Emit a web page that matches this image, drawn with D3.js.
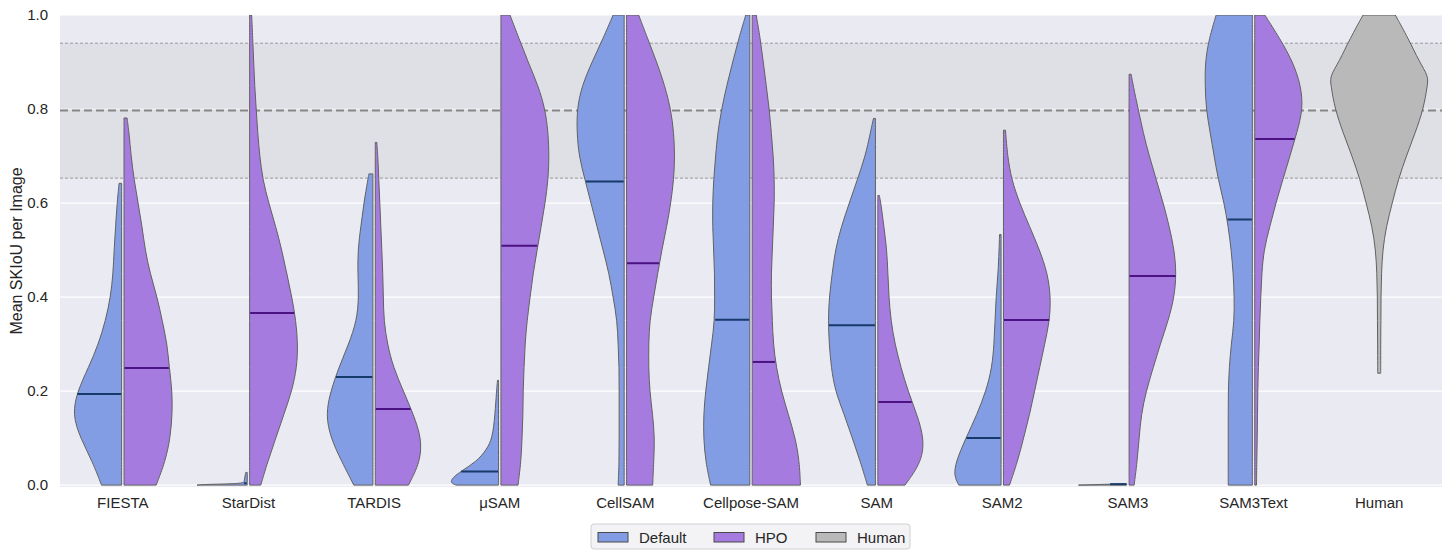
<!DOCTYPE html>
<html>
<head>
<meta charset="utf-8">
<script src="https://cdn.jsdelivr.net/npm/d3@7"></script>
<style>
  body { margin: 0; background: #fff; }
  svg { font-family: "Liberation Sans", Arial, sans-serif; }
</style>
</head>
<body>
<svg id="chart"></svg>
<script>
// categories and per-group means
const categories = ["FIESTA", "StarDist", "TARDIS", "μSAM", "CellSAM", "Cellpose-SAM", "SAM", "SAM2", "SAM3", "SAM3Text", "Human"];
const defaultMeans = [0.194, 0.004, 0.230, 0.029, 0.646, 0.352, 0.340, 0.100, 0.002, 0.565, null];
const hpoMeans = [0.249, 0.366, 0.162, 0.509, 0.472, 0.262, 0.177, 0.351, 0.445, 0.736, null];

// human reference: mean and band
const humanMean = 0.797;
const humanBand = [0.653, 0.940];

const yTicks = [0, 0.2, 0.4, 0.6, 0.8, 1.0];

// density profiles: [score, relative density]
const defaultDensity = [
  [[0,0.40],[0.05,0.58],[0.1,0.82],[0.15,0.98],[0.2,0.88],[0.25,0.66],[0.3,0.46],[0.35,0.32],[0.4,0.22],[0.45,0.17],[0.5,0.15],[0.55,0.12],[0.6,0.09],[0.642,0.05]],
  [[0,1.0],[0.0015,0.9],[0.003,0.08],[0.008,0.06],[0.015,0.05],[0.022,0.04],[0.027,0.03]],
  [[0,0.38],[0.05,0.62],[0.1,0.84],[0.15,0.94],[0.2,0.84],[0.25,0.68],[0.3,0.48],[0.35,0.32],[0.4,0.28],[0.45,0.3],[0.5,0.3],[0.55,0.24],[0.6,0.18],[0.65,0.1],[0.662,0.08]],
  [[0,0.84],[0.005,0.96],[0.015,0.92],[0.03,0.74],[0.05,0.44],[0.075,0.24],[0.1,0.12],[0.15,0.07],[0.2,0.04],[0.223,0.02]],
  [[0,0.12],[0.05,0.1],[0.1,0.1],[0.15,0.1],[0.2,0.1],[0.25,0.1],[0.3,0.12],[0.35,0.14],[0.4,0.22],[0.45,0.3],[0.5,0.42],[0.55,0.54],[0.6,0.66],[0.65,0.78],[0.7,0.9],[0.75,0.94],[0.8,0.94],[0.85,0.84],[0.9,0.64],[0.95,0.42],[1.0,0.22]],
  [[0,0.78],[0.05,0.88],[0.1,0.92],[0.15,0.92],[0.2,0.88],[0.25,0.82],[0.3,0.76],[0.35,0.7],[0.4,0.7],[0.45,0.7],[0.5,0.72],[0.55,0.74],[0.6,0.74],[0.65,0.72],[0.7,0.68],[0.75,0.64],[0.8,0.56],[0.85,0.46],[0.9,0.34],[0.95,0.22],[1.0,0.08]],
  [[0,0.16],[0.05,0.3],[0.1,0.46],[0.15,0.62],[0.2,0.8],[0.25,0.88],[0.3,0.92],[0.35,0.94],[0.4,0.92],[0.45,0.86],[0.5,0.8],[0.55,0.68],[0.6,0.52],[0.65,0.36],[0.7,0.2],[0.75,0.1],[0.78,0.04]],
  [[0,0.84],[0.02,0.94],[0.05,0.9],[0.1,0.7],[0.15,0.48],[0.2,0.3],[0.25,0.18],[0.3,0.14],[0.35,0.12],[0.4,0.1],[0.45,0.06],[0.5,0.04],[0.533,0.03]],
  [[0,0.96],[0.0015,0.5],[0.003,0.02]],
  [[0,0.48],[0.05,0.48],[0.1,0.48],[0.15,0.48],[0.2,0.48],[0.25,0.46],[0.3,0.42],[0.35,0.36],[0.4,0.36],[0.45,0.38],[0.5,0.42],[0.55,0.48],[0.6,0.56],[0.65,0.68],[0.7,0.76],[0.75,0.84],[0.8,0.92],[0.85,0.94],[0.9,0.94],[0.95,0.86],[1.0,0.72]],
  null
];

const hpoDensity = [
  [[0,0.64],[0.05,0.82],[0.1,0.92],[0.15,0.96],[0.2,0.96],[0.25,0.9],[0.3,0.86],[0.35,0.76],[0.4,0.66],[0.45,0.52],[0.5,0.42],[0.55,0.36],[0.6,0.28],[0.65,0.2],[0.7,0.14],[0.75,0.1],[0.781,0.06]],
  [[0,0.22],[0.05,0.36],[0.1,0.52],[0.15,0.68],[0.2,0.84],[0.25,0.94],[0.3,0.96],[0.35,0.92],[0.4,0.84],[0.45,0.74],[0.5,0.64],[0.55,0.52],[0.6,0.38],[0.65,0.26],[0.7,0.2],[0.75,0.16],[0.8,0.13],[0.85,0.1],[0.9,0.08],[0.95,0.06],[1.0,0.04]],
  [[0,0.66],[0.05,0.9],[0.1,0.92],[0.15,0.76],[0.2,0.56],[0.25,0.36],[0.3,0.24],[0.35,0.17],[0.4,0.16],[0.45,0.15],[0.5,0.13],[0.55,0.11],[0.6,0.09],[0.65,0.07],[0.7,0.05],[0.729,0.03]],
  [[0,0.34],[0.05,0.4],[0.1,0.42],[0.15,0.44],[0.2,0.44],[0.25,0.46],[0.3,0.48],[0.35,0.52],[0.4,0.58],[0.45,0.64],[0.5,0.72],[0.55,0.8],[0.6,0.88],[0.65,0.94],[0.7,0.96],[0.75,0.94],[0.8,0.88],[0.85,0.74],[0.9,0.54],[0.95,0.36],[1.0,0.18]],
  [[0,0.52],[0.05,0.54],[0.1,0.56],[0.15,0.52],[0.2,0.46],[0.25,0.44],[0.3,0.44],[0.35,0.46],[0.4,0.54],[0.45,0.62],[0.5,0.7],[0.55,0.8],[0.6,0.88],[0.65,0.94],[0.7,0.96],[0.75,0.94],[0.8,0.88],[0.85,0.76],[0.9,0.6],[0.95,0.42],[1.0,0.24]],
  [[0,0.96],[0.05,0.94],[0.1,0.86],[0.15,0.72],[0.2,0.58],[0.25,0.48],[0.3,0.42],[0.35,0.4],[0.4,0.38],[0.45,0.38],[0.5,0.4],[0.55,0.42],[0.6,0.44],[0.65,0.44],[0.7,0.42],[0.75,0.38],[0.8,0.34],[0.85,0.28],[0.9,0.22],[0.95,0.16],[1.0,0.08]],
  [[0,0.54],[0.05,0.88],[0.1,0.92],[0.15,0.78],[0.2,0.6],[0.25,0.46],[0.3,0.34],[0.35,0.26],[0.4,0.22],[0.45,0.2],[0.5,0.18],[0.55,0.12],[0.6,0.06],[0.616,0.03]],
  [[0,0.12],[0.05,0.28],[0.1,0.4],[0.15,0.52],[0.2,0.62],[0.25,0.72],[0.3,0.82],[0.35,0.92],[0.4,0.94],[0.45,0.88],[0.5,0.72],[0.55,0.52],[0.6,0.32],[0.65,0.16],[0.7,0.08],[0.755,0.04]],
  [[0,0.1],[0.05,0.16],[0.1,0.2],[0.15,0.24],[0.2,0.34],[0.25,0.48],[0.3,0.62],[0.35,0.78],[0.4,0.9],[0.45,0.94],[0.5,0.9],[0.55,0.8],[0.6,0.68],[0.65,0.54],[0.7,0.4],[0.75,0.28],[0.8,0.18],[0.85,0.08],[0.874,0.04]],
  [[0,0.035],[0.05,0.04],[0.1,0.05],[0.15,0.055],[0.2,0.06],[0.25,0.07],[0.3,0.09],[0.35,0.1],[0.4,0.12],[0.45,0.14],[0.5,0.18],[0.55,0.3],[0.6,0.42],[0.65,0.56],[0.7,0.7],[0.75,0.84],[0.8,0.96],[0.85,0.92],[0.9,0.76],[0.95,0.5],[1.0,0.2]],
  null
];

const humanDensity = [[0.238,0.03],[0.25,0.03],[0.3,0.03],[0.35,0.035],[0.4,0.035],[0.45,0.045],[0.5,0.07],[0.55,0.14],[0.6,0.26],[0.65,0.38],[0.7,0.54],[0.75,0.72],[0.8,0.88],[0.85,0.96],[0.87,0.98],[0.9,0.8],[0.95,0.58],[1.0,0.32]];

const legendItems = ["Default", "HPO", "Human"];
const colors = { Default: "#829de3", HPO: "#a67bdf", Human: "#b9b9b9" };
const meanColors = { Default: "#163a6a", HPO: "#4a1282" };

let W = 1448, H = 550;
let m = { top: 15, right: 6, bottom: 63, left: 60 };

let svg = d3.select("#chart").attr("width", W).attr("height", H);

let x = d3.scaleBand().domain(categories).range([m.left, W - m.right]).padding(0);
let y = d3.scaleLinear().domain([-0.004, 1.0]).range([H - m.bottom, m.top]);
let w = d3.scaleLinear().domain([0, 1]).range([0, x.bandwidth() * 0.4]);
let gap = 1.2;
let curve = d3.curveBasis;

svg.append("defs").append("clipPath").attr("id", "plotclip")
  .append("rect")
  .attr("x", m.left).attr("y", m.top)
  .attr("width", W - m.left - m.right).attr("height", H - m.top - m.bottom);

// background
svg.append("rect")
  .attr("x", m.left).attr("y", m.top)
  .attr("width", W - m.left - m.right).attr("height", H - m.top - m.bottom)
  .attr("fill", "#eaeaf2");

// grid
svg.append("g").selectAll("line").data(yTicks).enter().append("line")
  .attr("x1", m.left).attr("x2", W - m.right)
  .attr("y1", d => y(d)).attr("y2", d => y(d))
  .attr("stroke", "#fff").attr("stroke-width", 1.2);

// human band and reference lines
svg.append("rect")
  .attr("x", m.left).attr("width", W - m.left - m.right)
  .attr("y", y(humanBand[1])).attr("height", y(humanBand[0]) - y(humanBand[1]))
  .attr("fill", "#808080").attr("fill-opacity", 0.1);

svg.append("g").selectAll("line").data(humanBand).enter().append("line")
  .attr("x1", m.left).attr("x2", W - m.right)
  .attr("y1", d => y(d)).attr("y2", d => y(d))
  .attr("stroke", "#999").attr("stroke-width", 1).attr("stroke-dasharray", "3,2");

svg.append("line")
  .attr("x1", m.left).attr("x2", W - m.right)
  .attr("y1", y(humanMean)).attr("y2", y(humanMean))
  .attr("stroke", "#888").attr("stroke-width", 2).attr("stroke-dasharray", "8,4");

// violins
let plot = svg.append("g").attr("clip-path", "url(#plotclip)");

function widthAt(profile, v) {
  for (let i = 1; i < profile.length; i++) {
    if (v <= profile[i][0]) {
      let a = profile[i - 1], b = profile[i];
      let t = (v - a[0]) / (b[0] - a[0]);
      return a[1] + t * (b[1] - a[1]);
    }
  }
  return profile[profile.length - 1][1];
}

categories.forEach((cat, i) => {
  let cx = x(cat) + x.bandwidth() / 2;

  if (defaultDensity[i]) {
    let area = d3.area().curve(curve)
      .y(d => y(d[0]))
      .x0(cx - gap)
      .x1(d => cx - gap - w(d[1]));
    plot.append("path").datum(defaultDensity[i])
      .attr("d", d => area(d) + "Z")
      .attr("fill", colors.Default).attr("stroke", "#616161").attr("stroke-width", 1);
  }
  if (hpoDensity[i]) {
    let area = d3.area().curve(curve)
      .y(d => y(d[0]))
      .x0(cx + gap)
      .x1(d => cx + gap + w(d[1]));
    plot.append("path").datum(hpoDensity[i])
      .attr("d", d => area(d) + "Z")
      .attr("fill", colors.HPO).attr("stroke", "#616161").attr("stroke-width", 1);
  }
  if (defaultMeans[i] != null) {
    let v = defaultMeans[i];
    plot.append("line")
      .attr("x1", cx - gap - 0.5).attr("x2", cx - gap - w(widthAt(defaultDensity[i], v)) + 0.5)
      .attr("y1", y(v)).attr("y2", y(v))
      .attr("stroke", meanColors.Default).attr("stroke-width", 2);
  }
  if (hpoMeans[i] != null) {
    let v = hpoMeans[i];
    plot.append("line")
      .attr("x1", cx + gap + 0.5).attr("x2", cx + gap + w(widthAt(hpoDensity[i], v)) - 0.5)
      .attr("y1", y(v)).attr("y2", y(v))
      .attr("stroke", meanColors.HPO).attr("stroke-width", 2);
  }
  if (cat === "Human") {
    let area = d3.area().curve(curve)
      .y(d => y(d[0]))
      .x0(d => cx - w(d[1]))
      .x1(d => cx + w(d[1]));
    plot.append("path").datum(humanDensity)
      .attr("d", d => area(d) + "Z")
      .attr("fill", colors.Human).attr("stroke", "#616161").attr("stroke-width", 1);
  }
});

// axes labels
svg.append("g").selectAll("text").data(yTicks).enter().append("text")
  .attr("x", 48).attr("y", d => y(d)).attr("dy", "0.35em")
  .attr("text-anchor", "end").attr("font-size", 15).attr("fill", "#262626")
  .text(d => d.toFixed(1));

svg.append("g").selectAll("text").data(categories).enter().append("text")
  .attr("x", d => x(d) + x.bandwidth() / 2).attr("y", 508)
  .attr("text-anchor", "middle").attr("font-size", 15).attr("fill", "#262626")
  .text(d => d);

svg.append("text")
  .attr("transform", `translate(22,${(m.top + H - m.bottom) / 2}) rotate(-90)`)
  .attr("text-anchor", "middle").attr("font-size", 16).attr("fill", "#262626")
  .text("Mean SKIoU per Image");

// legend
let lg = svg.append("g");
lg.append("rect")
  .attr("x", 591).attr("y", 524).attr("width", 319).attr("height", 25).attr("rx", 3)
  .attr("fill", "#f3f3f6").attr("stroke", "#d0d0d0");
let lx = [598, 714, 816];
legendItems.forEach((k, i) => {
  lg.append("rect").attr("x", lx[i]).attr("y", 532.5).attr("width", 30).attr("height", 9.5)
    .attr("fill", colors[k]).attr("stroke", "#4a4a4a").attr("stroke-width", 1);
  lg.append("text").attr("x", lx[i] + 41).attr("y", 542.5)
    .attr("font-size", 15).attr("fill", "#262626").text(k);
});
</script>
</body>
</html>
